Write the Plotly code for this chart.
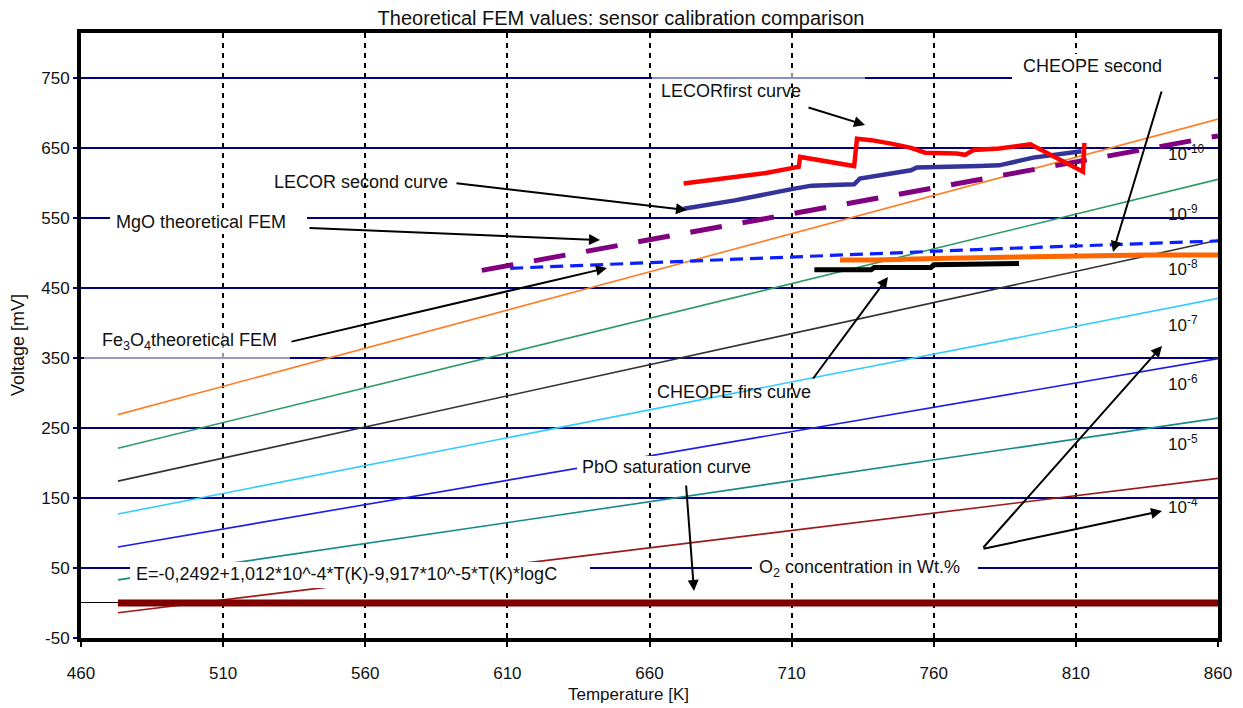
import plotly.graph_objects as go

# ---------------- data ----------------
x_tick_vals = [460, 510, 560, 610, 660, 710, 760, 810, 860]
y_tick_vals = [-50, 50, 150, 250, 350, 450, 550, 650, 750]

# theoretical FEM lines for each O2 concentration (end points)
theory_T = [473, 860]
theory_labels = ["10<sup>-10</sup>", "10<sup>-9</sup>", "10<sup>-8</sup>", "10<sup>-7</sup>",
                 "10<sup>-6</sup>", "10<sup>-5</sup>", "10<sup>-4</sup>"]
theory_start_mV = [269, 221, 174, 127, 80, 33, -14]
theory_end_mV = [691, 605, 518, 435, 349, 264, 178]

pbo_T = [473, 860]
pbo_mV = [0, 0]

lecor1_T = [672, 681, 691, 701, 710, 712.5, 713, 722, 732, 733, 738, 745, 752, 757, 768, 771, 774, 783, 794, 812.5, 813]
lecor1_mV = [599, 604, 609, 614, 621, 623, 637, 631, 624, 663, 661, 656, 650, 643, 642, 640, 647, 649, 655, 616, 657]

lecor2_T = [672, 690, 710, 717, 732, 734, 752, 754, 776, 783, 795, 812]
lecor2_mV = [563, 575, 591, 596, 598, 606, 618, 622, 624, 625, 636, 645]

mgo_T = [601, 708, 783, 860]
mgo_mV = [475, 554, 610, 667]

fe3o4_T = [611, 713, 783, 860]
fe3o4_mV = [478, 495, 506, 517]

cheope1_T = [718, 738, 739, 759, 760, 790]
cheope1_mV = [476, 476, 479, 479, 483, 485]

cheope2_T = [727, 740, 760, 783, 810, 835, 860]
cheope2_mV = [490, 490, 492, 494, 496, 497, 497]

# ---------------- styles / layout ----------------
theory_colors = ["#FF7F27", "#2E9A66", "#333333", "#33CCFF", "#1E1EE6", "#168A8A", "#A01818"]
FONT = "Liberation Sans, Arial, sans-serif"
PAGE_OFF = 8                      # default body margin of the html page
W, H = 1243 - PAGE_OFF, 708 - PAGE_OFF
PL, PT, PR, PB = 81, 33, 1218, 638   # plot area in page pixels
X_RANGE = [460, 860]
Y_RANGE = [-50, 814]
PW, PH = PR - PL, PB - PT
M_L, M_T = PL - PAGE_OFF, PT - PAGE_OFF
M_R, M_B = W - M_L - PW, H - M_T - PH


def T_at(px):
    return X_RANGE[0] + (px - PL) * (X_RANGE[1] - X_RANGE[0]) / PW


def mV_at(py):
    return Y_RANGE[0] + (PB - py) * (Y_RANGE[1] - Y_RANGE[0]) / PH


def xp(px):
    return (px - PL) / PW


def yp(py):
    return (PB - py) / PH


fig = go.Figure()

for s, e, c in zip(theory_start_mV, theory_end_mV, theory_colors):
    fig.add_trace(go.Scatter(x=theory_T, y=[s, e], mode="lines",
                             line=dict(color=c, width=1.6), hoverinfo="skip"))

fig.add_trace(go.Scatter(x=pbo_T, y=pbo_mV, mode="lines", line=dict(color="#800000", width=7)))
fig.add_trace(go.Scatter(x=fe3o4_T, y=fe3o4_mV, mode="lines",
                         line=dict(color="#0A1EFF", width=3.2, dash="13px,7px")))
fig.add_trace(go.Scatter(x=mgo_T, y=mgo_mV, mode="lines",
                         line=dict(color="#800080", width=5, dash="32px,21px")))
fig.add_trace(go.Scatter(x=lecor2_T, y=lecor2_mV, mode="lines", line=dict(color="#333399", width=4.5)))
fig.add_trace(go.Scatter(x=lecor1_T, y=lecor1_mV, mode="lines", line=dict(color="#FF0000", width=4.5)))
fig.add_trace(go.Scatter(x=cheope1_T, y=cheope1_mV, mode="lines", line=dict(color="#000000", width=5)))
fig.add_trace(go.Scatter(x=cheope2_T, y=cheope2_mV, mode="lines", line=dict(color="#FF6600", width=5)))

# white masks behind text labels (as in the original chart)
masks = [
    (1012, 1214, 54, 83, "white"),
    (110, 307, 212, 234, "white"),
    (84, 290, 330, 362, "rgba(255,255,255,0.6)"),
    (130, 590, 562, 588, "white"),
    (577, 757, 456, 478, "white"),
    (752, 978, 557, 580, "white"),
    (652, 865, 72, 84, "rgba(255,255,255,0.55)"),
]
for x0, x1, y0, y1, col in masks:
    fig.add_shape(type="rect", xref="x", yref="y", x0=T_at(x0), x1=T_at(x1),
                  y0=mV_at(y1), y1=mV_at(y0), fillcolor=col, line=dict(width=0), layer="above")

annos = []
texts = [
    ("LECORfirst curve", 659, 91),
    ("CHEOPE second", 1021, 66),
    ("LECOR second curve", 272, 182),
    ("MgO theoretical FEM", 114, 222),
    ("Fe<sub>3</sub>O<sub>4</sub>theoretical FEM", 100, 341),
    ("E=-0,2492+1,012*10^-4*T(K)-9,917*10^-5*T(K)*logC", 134, 574),
    ("PbO saturation curve", 580, 467),
    ("CHEOPE firs curve", 655, 392),
    ("O<sub>2</sub> concentration in Wt.%", 757, 568),
]
for txt, px, py in texts:
    annos.append(dict(text=txt, x=T_at(px), y=mV_at(py), xref="x", yref="y",
                      xanchor="left", yanchor="middle", showarrow=False,
                      font=dict(family=FONT, size=18, color="#111111")))

label_py = [157, 217, 272, 328, 387, 447, 510]
for lab, py in zip(theory_labels, label_py):
    annos.append(dict(text=lab, x=T_at(1166), y=mV_at(py - 4), xref="x", yref="y",
                      xanchor="left", yanchor="middle", showarrow=False,
                      font=dict(family=FONT, size=17, color="#111111")))

# arrows: (tail px, tail py, head px, head py)
arrows = [
    (807, 107, 865, 125),
    (455, 183, 687, 210),
    (308, 228, 600, 240),
    (290, 342, 607, 268),
    (812, 380, 888, 277),
    (1162, 90, 1113, 252),
    (686, 484, 694, 591),
    (982, 549, 1162, 346),
    (982, 549, 1162, 511),
]
for tx, ty, hx, hy in arrows:
    annos.append(dict(text="", x=T_at(hx), y=mV_at(hy), ax=T_at(tx), ay=mV_at(ty),
                      xref="x", yref="y", axref="x", ayref="y", showarrow=True,
                      arrowhead=2, arrowsize=1.1, arrowwidth=2, arrowcolor="#000000", standoff=0))

annos.append(dict(text="Voltage [mV]", x=xp(18), y=yp(345), xref="paper", yref="paper",
                  textangle=-90, showarrow=False, xanchor="center", yanchor="middle",
                  font=dict(family=FONT, size=18, color="#111111")))
annos.append(dict(text="Temperature [K]", x=xp(628), y=yp(694), xref="paper", yref="paper",
                  showarrow=False, xanchor="center", yanchor="middle",
                  font=dict(family=FONT, size=17, color="#111111")))

fig.update_layout(
    width=W, height=H, autosize=False,
    margin=dict(l=M_L, r=M_R, t=M_T, b=M_B, pad=0),
    paper_bgcolor="white", plot_bgcolor="white",
    showlegend=False,
    title=dict(text="Theoretical FEM values: sensor calibration comparison",
               x=(621 - PAGE_OFF) / W, y=1 - (18 - PAGE_OFF) / H, xanchor="center", yanchor="middle",
               font=dict(family=FONT, size=20, color="#111111")),
    annotations=annos,
    xaxis=dict(range=X_RANGE, tickvals=x_tick_vals, ticktext=[str(v) for v in x_tick_vals],
               showgrid=True, gridcolor="#000000", gridwidth=1.5, griddash="5px,5px",
               showline=True, linewidth=4, linecolor="#000000", mirror=True,
               ticks="outside", ticklen=5, tickwidth=1.5, tickcolor="#000000",
               zeroline=False, ticklabelstandoff=12,
               tickfont=dict(family=FONT, size=17, color="#111111")),
    yaxis=dict(range=Y_RANGE, tickvals=y_tick_vals, ticktext=[str(v) for v in y_tick_vals],
               showgrid=True, gridcolor="#000080", gridwidth=1.6,
               zeroline=True, zerolinecolor="#000000", zerolinewidth=1.2,
               showline=True, linewidth=4, linecolor="#000000", mirror=True,
               ticks="outside", ticklen=4, tickwidth=1.5, tickcolor="#000080",
               tickfont=dict(family=FONT, size=17, color="#111111")),
)

fig.write_html("out.html")
